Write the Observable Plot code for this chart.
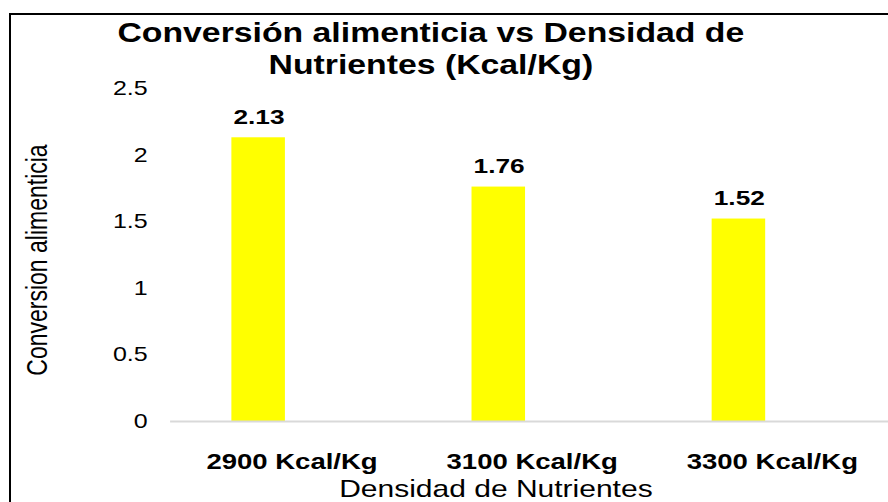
<!DOCTYPE html>
<html>
<head>
<meta charset="utf-8">
<script src="https://cdn.jsdelivr.net/npm/d3@7"></script>
<script src="https://cdn.jsdelivr.net/npm/@observablehq/plot@0.6"></script>
<style>
  html, body { margin: 0; padding: 0; background: #fff; }
  #root { position: relative; width: 888px; height: 502px; overflow: hidden; background: #fff; }
  #border { position: absolute; left: 9px; top: 13px; right: -10px; bottom: -10px;
            border-top: 2px solid #000; border-left: 2px solid #000; }
  #stretch { position: absolute; left: 0; top: 0; width: 710px; height: 502px;
             transform: scaleX(1.2507); transform-origin: 0 0; }
  #title { position: absolute; left: 0; top: 17px; width: 689px; text-align: center;
           font-family: "Liberation Sans", Arial, sans-serif; font-weight: bold;
           font-size: 27px; line-height: 32px; color: #000; }
  #chart { position: absolute; left: 0; top: 0; }
</style>
</head>
<body>
<div id="root">
  <div id="stretch">
    <div id="chart"></div>
    <div id="title">Conversión alimenticia vs Densidad de<br>Nutrientes (Kcal/Kg)</div>
  </div>
  <div id="border"></div>
</div>
<script>
const categories = ["2900 Kcal/Kg", "3100 Kcal/Kg", "3300 Kcal/Kg"];
const values = [2.13, 1.76, 1.52];
const valueLabels = ["2.13", "1.76", "1.52"];
const yTicks = [0, 0.5, 1, 1.5, 2, 2.5];
const xTitle = "Densidad de Nutrientes";
const yTitle = "Conversion alimenticia";

const data = categories.map((c, i) => ({cat: c, v: values[i], label: valueLabels[i]}));
const font = "Liberation Sans, Arial, sans-serif";

const chart = Plot.plot({
  width: 710,
  height: 502,
  marginLeft: 136,
  marginRight: 0,
  marginTop: 88,
  marginBottom: 81,
  style: {fontFamily: font, background: "transparent", overflow: "visible"},
  x: {domain: categories, range: [135.6, 713.6], padding: 0, axis: null},
  y: {domain: [0, 2.5], axis: null},
  marks: [
    Plot.barY(data, {x: "cat", y: "v", fill: "#FFFF00", insetLeft: 48, insetRight: 101.2}),
    Plot.ruleY([0], {stroke: "#d9d9d9", strokeWidth: 2}),
    Plot.axisY(yTicks, {tickSize: 0, tickPadding: 18.4, tickFormat: d => String(d),
      fontSize: 20, fill: "#000", label: null}),
    Plot.axisX({tickSize: 0, tickPadding: 32, fontSize: 22, fontWeight: "bold",
      fill: "#000", label: null}),
    Plot.text(data, {x: "cat", y: "v", text: "label", dx: -26.4, dy: -21,
      lineAnchor: "middle", fontSize: 21, fontWeight: "bold", fill: "#000"}),
    Plot.text([xTitle], {frameAnchor: "bottom", dx: -27, dy: 68, lineAnchor: "middle",
      fontSize: 24, fill: "#000"}),
    Plot.text([yTitle], {frameAnchor: "left", dx: -106.4, dy: 5, rotate: -90,
      lineAnchor: "middle", textAnchor: "middle", fontSize: 23, fill: "#000"})
  ]
});
document.getElementById("chart").appendChild(chart);
</script>
</body>
</html>
